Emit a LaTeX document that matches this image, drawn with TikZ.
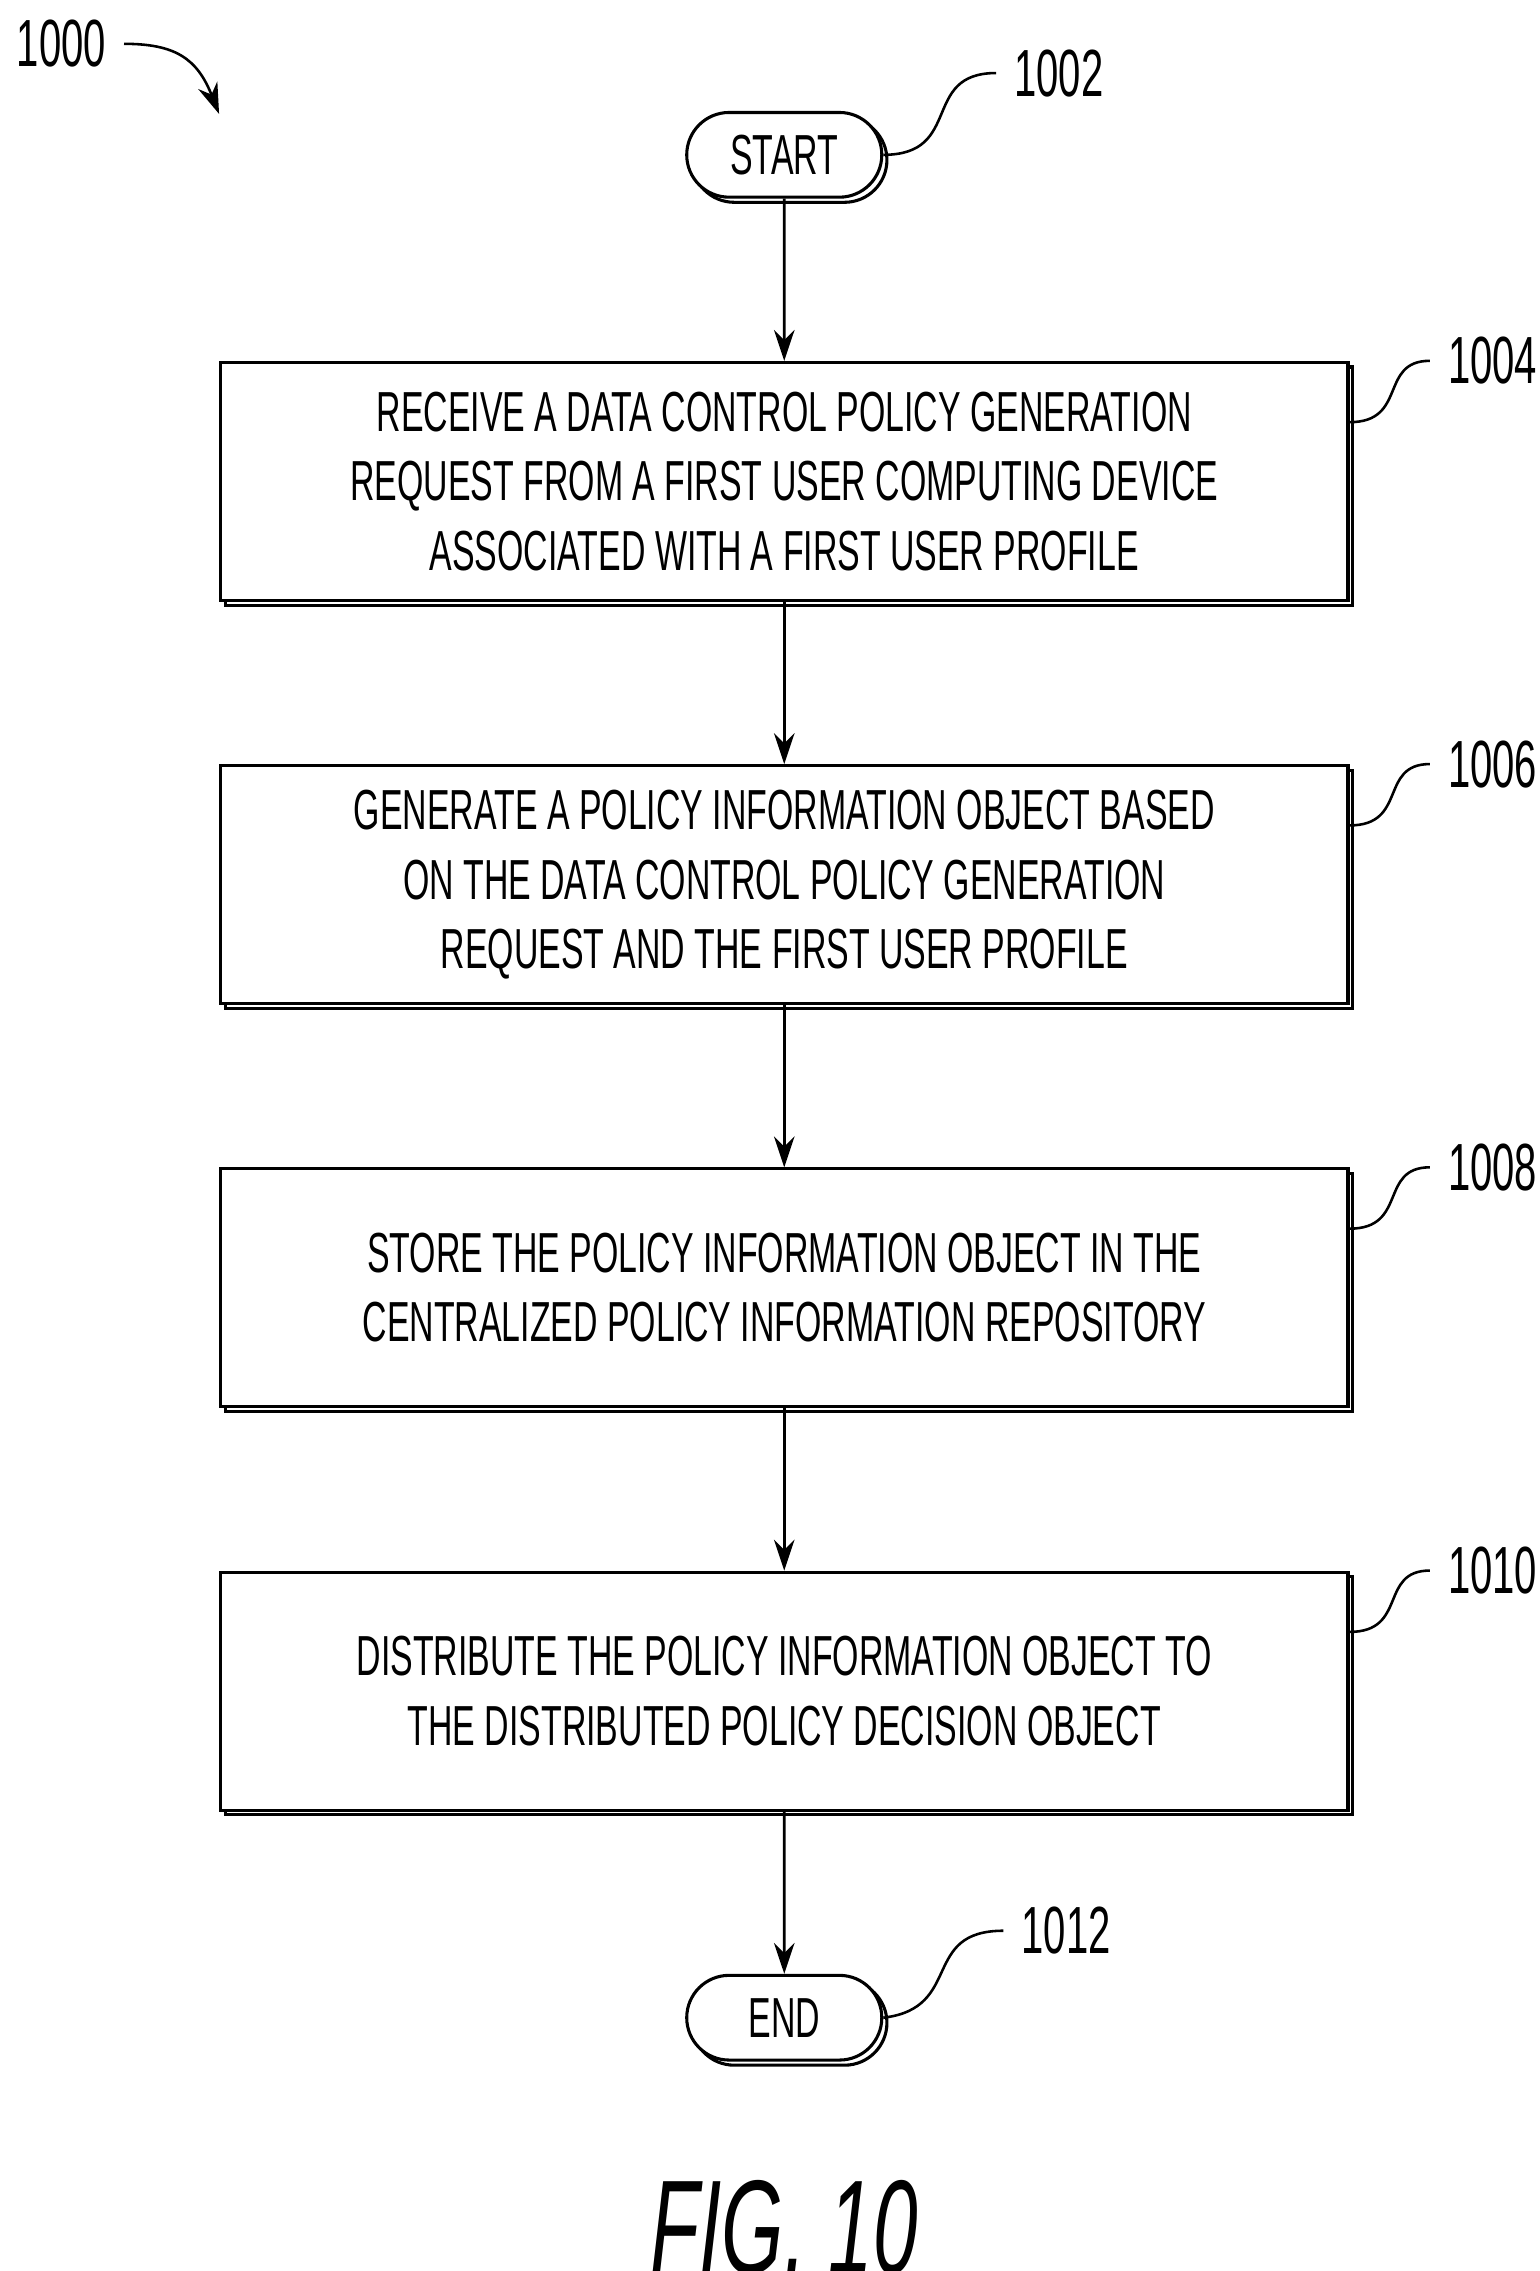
\documentclass[tikz,border=0pt]{standalone}
\usepackage{fontspec}
\newfontfamily\cond[FakeStretch=0.6]{Liberation Sans}
\usetikzlibrary{positioning,shadows,arrows.meta,shapes.misc}

\begin{document}
\begin{tikzpicture}[node distance=1.11cm,font=\cond\fontsize{11}{13.5}\selectfont]
\tikzset{procbox/.style={rectangle, draw=black, line width=0.6pt, fill=white, minimum width=7.72cm, minimum height=1.63cm, align=center, copy shadow={shadow xshift=0.9pt, shadow yshift=-0.9pt}},
 term/.style={rounded rectangle, draw=black, line width=0.6pt, fill=white, minimum width=1.57cm, minimum height=0.58cm, copy shadow={shadow xshift=1pt, shadow yshift=-1pt}},
 flow/.style={-{Stealth[length=6pt,width=4pt]}, line width=0.5pt},
 tag/.style={font=\cond\fontsize{13}{15}\selectfont},
 lead/.style={line width=0.5pt}}
\useasboundingbox (0,0) rectangle (10.54,-15.55);
\node (start) [term] at (5.37,-1.06) {START};
\node (s1) [procbox, below=of start] {RECEIVE A DATA CONTROL POLICY GENERATION\\REQUEST FROM A FIRST USER COMPUTING DEVICE\\ASSOCIATED WITH A FIRST USER PROFILE};
\node (s2) [procbox, below=of s1] {GENERATE A POLICY INFORMATION OBJECT BASED\\ON THE DATA CONTROL POLICY GENERATION\\REQUEST AND THE FIRST USER PROFILE};
\node (s3) [procbox, below=of s2] {STORE THE POLICY INFORMATION OBJECT IN THE\\CENTRALIZED POLICY INFORMATION REPOSITORY};
\node (s4) [procbox, below=of s3] {DISTRIBUTE THE POLICY INFORMATION OBJECT TO\\THE DISTRIBUTED POLICY DECISION OBJECT};
\node (end) [term, below=of s4] {END};
\draw [flow] (start) -- (s1);
\draw [flow] (s1) -- (s2);
\draw [flow] (s2) -- (s3);
\draw [flow] (s3) -- (s4);
\draw [flow] (s4) -- (end);
% reference numerals
\node (t0) [tag] at (0.42,-0.30) {1000};
\node (t2) [tag] at (7.25,-0.50) {1002};
\node (t12) [tag] at (7.30,-13.22) {1012};
\node (t4) [tag, right=0.55cm of s1.north east, anchor=west] {1004};
\node (t6) [tag, right=0.55cm of s2.north east, anchor=west] {1006};
\node (t8) [tag, right=0.55cm of s3.north east, anchor=west] {1008};
\node (t10) [tag, right=0.55cm of s4.north east, anchor=west] {1010};
\draw [lead] (start.east) .. controls (6.6,-1.06) and (6.3,-0.5) .. (t2.west);
\draw [lead] (end.east) .. controls (6.6,-13.75) and (6.3,-13.22) .. (t12.west);
\foreach \s/\t in {s1/t4,s2/t6,s3/t8,s4/t10}
  \draw [lead] ([yshift=-0.42cm]\s.north east) .. controls +(0.4,0) and +(-0.35,0) .. (\t.west);
\draw [flow] (t0.east) .. controls (1.2,-0.3) and (1.35,-0.4) .. (1.5,-0.78);
\node (fig) at (5.37,-15.25) {\itshape\cond\fontsize{26}{28}\selectfont FIG. 10};
\end{tikzpicture}
\end{document}
